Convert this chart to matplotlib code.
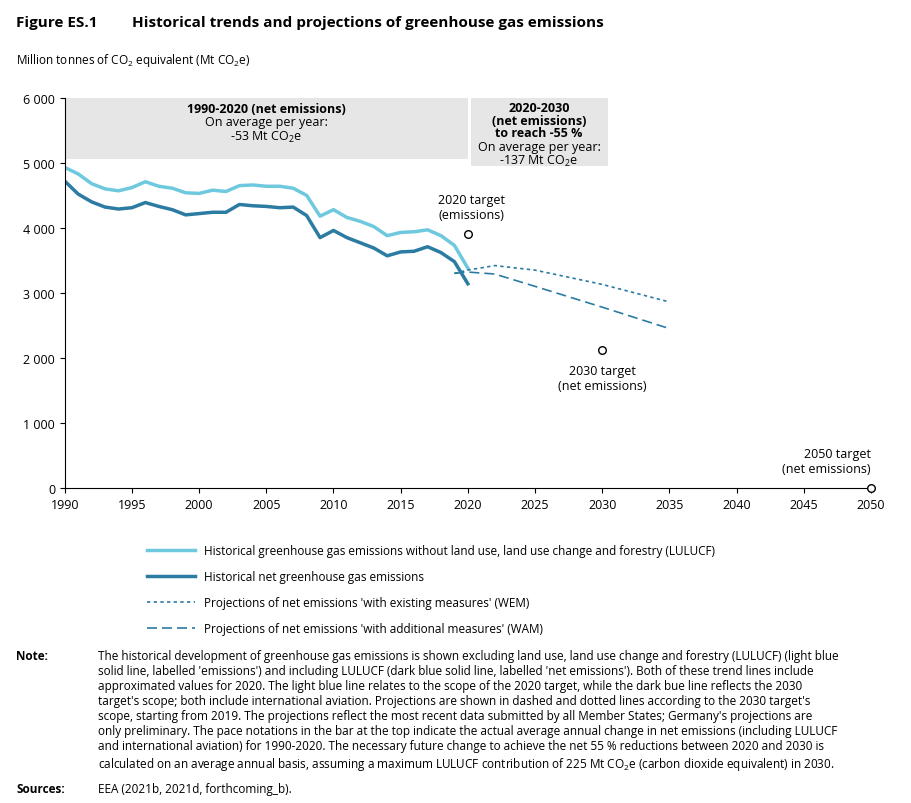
import matplotlib.pyplot as plt
from matplotlib.lines import Line2D

years = list(range(1990, 2021))
emissions = [4930, 4830, 4680, 4600, 4570, 4620, 4710, 4640, 4610, 4540, 4530, 4580, 4560, 4650,
             4660, 4640, 4640, 4610, 4500, 4180, 4280, 4160, 4100, 4020, 3880, 3930, 3940, 3970,
             3880, 3730, 3380]
net = [4720, 4520, 4400, 4320, 4290, 4310, 4390, 4330, 4280, 4200, 4220, 4240, 4240, 4360,
       4340, 4330, 4310, 4320, 4190, 3850, 3960, 3850, 3770, 3690, 3570, 3630, 3640, 3710,
       3620, 3480, 3140]
proj_years = [2019, 2020, 2022, 2025, 2030, 2035]
wem = [3300, 3350, 3420, 3350, 3130, 2860]
wam = [3300, 3320, 3290, 3100, 2780, 2450]
target_years = [2020, 2030, 2050]
target_vals = [3900, 2120, 0]

light, dark = '#6ec9de', '#2b7ba3'
plt.rcParams['font.family'] = 'Open Sans'
plt.rcParams['mathtext.fontset'] = 'custom'
plt.rcParams['mathtext.rm'] = 'Open Sans'
plt.rcParams['mathtext.it'] = 'Open Sans'
plt.rcParams['mathtext.bf'] = 'Open Sans:bold'
fig = plt.figure(figsize=(9.12, 8.04), dpi=100)
ax = fig.add_axes([0.071, 0.392, 0.884, 0.485])

ax.add_patch(plt.Rectangle((1990, 5060), 30.0, 940, color='#e6e6e6', lw=0, zorder=0))
ax.add_patch(plt.Rectangle((2020.2, 4950), 10.2, 1050, color='#e6e6e6', lw=0, zorder=0))
ax.text(2005, 5930, '1990-2020 (net emissions)', ha='center', va='top', fontsize=9, fontweight='bold')
ax.text(2005, 5730, 'On average per year:\n-53 Mt CO$_2$e', ha='center', va='top', fontsize=9, linespacing=1.0)
ax.text(2025.3, 5950, '2020-2030\n(net emissions)\nto reach -55 %', ha='center', va='top',
        fontsize=9, fontweight='bold', linespacing=0.95)
ax.text(2025.3, 5350, 'On average per year:\n-137 Mt CO$_2$e', ha='center', va='top', fontsize=9, linespacing=1.0)

ax.plot(years, emissions, color=light, lw=2.5)
ax.plot(years, net, color=dark, lw=2.5)
ax.plot(proj_years, wem, color=dark, lw=1.2, ls=(0, (2, 2)))
ax.plot(proj_years, wam, color=dark, lw=1.2, ls=(0, (6, 3)))
ax.scatter(target_years, target_vals, s=30, facecolor='white', edgecolor='black', lw=1, zorder=5, clip_on=False)
ax.text(2020.3, 4100, '2020 target\n(emissions)', ha='center', va='bottom', fontsize=9)
ax.text(2030, 1900, '2030 target\n(net emissions)', ha='center', va='top', fontsize=9)
ax.text(2050, 200, '2050 target\n(net emissions)', ha='right', va='bottom', fontsize=9)

ax.set_xlim(1990, 2050)
ax.set_ylim(0, 6000)
ax.set_xticks(range(1990, 2051, 5))
ax.set_yticks(range(0, 6001, 1000))
ax.set_yticklabels([f'{v:,}'.replace(',', ' ') for v in range(0, 6001, 1000)])
for s in ['top', 'right']:
    ax.spines[s].set_visible(False)
ax.tick_params(labelsize=9)

fig.text(0.018, 0.972, 'Figure ES.1', fontsize=11, fontweight='bold', va='center')
fig.text(0.145, 0.972, 'Historical trends and projections of greenhouse gas emissions',
         fontsize=11, fontweight='bold', va='center')
fig.text(0.018, 0.925, 'Million tonnes of CO$_2$ equivalent (Mt CO$_2$e)', fontsize=8.5, va='center')

handles = [Line2D([], [], color=light, lw=2.5), Line2D([], [], color=dark, lw=2.5),
           Line2D([], [], color=dark, lw=1.2, ls=(0, (2, 2))),
           Line2D([], [], color=dark, lw=1.2, ls=(0, (6, 3)))]
labels = ['Historical greenhouse gas emissions without land use, land use change and forestry (LULUCF)',
          'Historical net greenhouse gas emissions',
          "Projections of net emissions 'with existing measures' (WEM)",
          "Projections of net emissions 'with additional measures' (WAM)"]
fig.legend(handles, labels, loc='upper left', bbox_to_anchor=(0.15, 0.335), frameon=False,
           fontsize=8.5, handlelength=4, labelspacing=1.1)

note = ("The historical development of greenhouse gas emissions is shown excluding land use, land use change and forestry (LULUCF) (light blue\n"
        "solid line, labelled 'emissions') and including LULUCF (dark blue solid line, labelled 'net emissions'). Both of these trend lines include\n"
        "approximated values for 2020. The light blue line relates to the scope of the 2020 target, while the dark bue line reflects the 2030\n"
        "target's scope; both include international aviation. Projections are shown in dashed and dotted lines according to the 2030 target's\n"
        "scope, starting from 2019. The projections reflect the most recent data submitted by all Member States; Germany's projections are\n"
        "only preliminary. The pace notations in the bar at the top indicate the actual average annual change in net emissions (including LULUCF\n"
        "and international aviation) for 1990-2020. The necessary future change to achieve the net 55 % reductions between 2020 and 2030 is\n"
        "calculated on an average annual basis, assuming a maximum LULUCF contribution of 225 Mt CO$_2$e (carbon dioxide equivalent) in 2030.")
fig.text(0.018, 0.191, 'Note:', fontsize=8.5, fontweight='bold', va='top')
fig.text(0.107, 0.191, note, fontsize=8.5, va='top', linespacing=1.2)
fig.text(0.018, 0.018, 'Sources:', fontsize=8.5, fontweight='bold', va='center')
fig.text(0.107, 0.018, 'EEA (2021b, 2021d, forthcoming_b).', fontsize=8.5, va='center')

fig.savefig('out.png', dpi=100)
